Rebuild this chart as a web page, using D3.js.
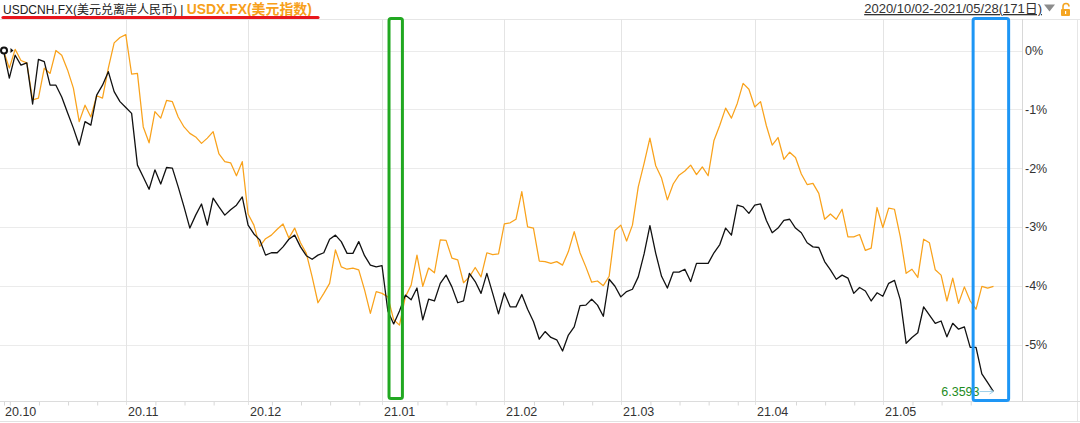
<!DOCTYPE html>
<html><head><meta charset="utf-8">
<script src="https://cdn.jsdelivr.net/npm/d3@7"></script>
<style>
html,body{margin:0;padding:0;background:#fff;}
svg{display:block;font-family:"Liberation Sans","Noto Sans CJK SC",sans-serif;}
</style></head>
<body><svg id="chart" width="1080" height="423"></svg>
<script>
// ---- data ----
const monthLabels = ["20.10","20.11","20.12","21.01","21.02","21.03","21.04","21.05"];
const monthStartIdx = [0,21,42,65,86,106,129,151];
const weekTickIdx = [1,6,11,16,26,31,36,46,51,56,61,71,76,81,91,96,101,111,116,121,126,136,141,146,156,161,166];
const yTicks = [0,-1,-2,-3,-4,-5];
const yTickLabels = ["0%","-1%","-2%","-3%","-4%","-5%"];
const usdcnh = [0,-0.47,-0.08,-0.25,-0.21,-0.91,-0.15,-0.19,-0.59,-0.59,
-0.79,-1.06,-1.32,-1.61,-1.21,-1.27,-0.76,-0.59,-0.36,-0.70,
-0.87,-0.97,-1.07,-1.95,-2.15,-2.36,-2.03,-2.27,-1.99,-2.00,
-2.32,-2.66,-3.02,-2.80,-2.61,-2.97,-2.51,-2.66,-2.80,-2.71,
-2.63,-2.49,-2.97,-3.12,-3.22,-3.48,-3.44,-3.44,-3.34,-3.21,
-3.14,-3.34,-3.49,-3.55,-3.48,-3.44,-3.21,-3.14,-3.25,-3.45,
-3.45,-3.25,-3.49,-3.65,-3.68,-3.66,-4.43,-4.65,-4.43,-4.16,
-4.24,-4.04,-4.58,-4.23,-4.26,-3.96,-3.82,-4.02,-4.29,-4.26,
-3.79,-3.93,-4.13,-3.79,-4.13,-4.48,-4.12,-4.36,-4.36,-4.15,
-4.40,-4.61,-4.91,-4.78,-4.88,-4.92,-5.11,-4.84,-4.70,-4.34,
-4.33,-4.23,-4.33,-4.52,-3.89,-4.01,-4.19,-4.10,-4.06,-3.85,
-3.46,-2.98,-3.45,-3.84,-4.04,-3.77,-3.77,-3.72,-3.93,-3.62,
-3.62,-3.62,-3.44,-3.30,-3.02,-3.14,-2.63,-2.66,-2.77,-2.63,
-2.61,-2.89,-3.10,-3.02,-2.89,-2.87,-3.02,-3.10,-3.27,-3.34,
-3.35,-3.59,-3.73,-3.89,-3.82,-3.87,-4.13,-4.03,-4.09,-4.26,
-4.12,-4.18,-3.96,-3.91,-4.24,-4.98,-4.88,-4.80,-4.36,-4.50,
-4.64,-4.60,-4.87,-4.64,-4.74,-4.70,-5.05,-5.05,-5.50,-5.65,
-5.80];
const usdx = [0,-0.30,0.02,-0.17,-0.21,-0.84,-0.81,-0.30,-0.39,0.00,
-0.08,-0.33,-0.64,-1.21,-0.93,-1.13,-0.77,-0.81,-0.30,0.13,
0.22,0.27,-0.40,-0.39,-1.30,-1.57,-1.04,-1.15,-0.85,-0.87,
-1.13,-1.30,-1.41,-1.47,-1.58,-1.49,-1.38,-1.76,-1.89,-1.91,
-2.13,-1.89,-2.78,-2.97,-3.33,-3.20,-3.14,-3.04,-2.95,-3.19,
-3.02,-3.27,-3.45,-3.85,-4.29,-4.13,-3.96,-3.39,-3.68,-3.72,
-3.70,-3.73,-4.07,-4.47,-4.10,-4.13,-4.19,-4.58,-4.67,-4.19,
-3.99,-3.48,-4.01,-3.70,-3.78,-3.22,-3.23,-3.53,-3.56,-3.95,
-3.85,-3.69,-3.85,-3.44,-3.47,-3.46,-2.95,-2.93,-2.87,-2.40,
-3.00,-3.02,-3.58,-3.59,-3.62,-3.59,-3.65,-3.42,-3.08,-3.44,
-3.68,-3.94,-3.92,-4.00,-3.84,-3.06,-2.97,-3.24,-2.97,-2.32,
-1.92,-1.49,-1.96,-2.17,-2.54,-2.27,-2.12,-2.05,-1.95,-2.11,
-1.98,-2.13,-1.53,-1.27,-0.98,-1.15,-0.90,-0.56,-0.66,-0.96,
-0.87,-1.28,-1.61,-1.48,-1.85,-1.73,-1.82,-2.10,-2.28,-2.26,
-2.43,-2.87,-2.78,-2.87,-2.70,-3.17,-3.17,-3.13,-3.40,-3.36,
-2.67,-3.01,-2.68,-2.70,-3.17,-3.79,-3.72,-3.86,-3.21,-3.27,
-3.73,-3.82,-4.26,-3.87,-4.30,-4.02,-4.26,-4.40,-4.01,-4.04,
-4.01];
const lastValueLabel = "6.3593";
const titleMain = "USDCNH.FX(美元兑离岸人民币)";
const titleSep = " | ";
const titleCompare = "USDX.FX(美元指数)";
const rangeLabel = "2020/10/02-2021/05/28(171日)";
const greenBoxIdx = [66.2, 68.5];
const blueBoxIdx = [166.5, 172.6];

// ---- layout ----
const svg = d3.select("#chart");
const plotTop = 19, axisY = 401, axisRight = 1022;
const x = d3.scaleLinear().domain([0, usdcnh.length - 1]).range([3.5, 993.5]);
const y = d3.scaleLinear().domain([0, -5]).range([50.5, 344.5]);

// outer frame lines
svg.append("line").attr("x1",0).attr("x2",1080).attr("y1",plotTop+0.5).attr("y2",plotTop+0.5).attr("stroke","#e6e6e6");
svg.append("line").attr("x1",0).attr("x2",1080).attr("y1",421.5).attr("y2",421.5).attr("stroke","#e2e2e2");
svg.append("line").attr("x1",1077.5).attr("x2",1077.5).attr("y1",plotTop).attr("y2",421).attr("stroke","#e6e6e6");

// horizontal gridlines
svg.append("g").selectAll("line").data(yTicks).join("line")
  .attr("x1",0).attr("x2",axisRight)
  .attr("y1",d=>Math.round(y(d))+0.5).attr("y2",d=>Math.round(y(d))+0.5)
  .attr("stroke","#ebebeb");

// vertical month gridlines
svg.append("g").selectAll("line").data(monthStartIdx.slice(1)).join("line")
  .attr("x1",d=>Math.round(x(d))+0.5).attr("x2",d=>Math.round(x(d))+0.5)
  .attr("y1",plotTop).attr("y2",axisY+4)
  .attr("stroke","#e4e4e4");

// bottom axis
const xAxis = d3.axisBottom(x).tickValues(weekTickIdx.concat([0])).tickSize(4).tickFormat("");
const gx = svg.append("g").attr("transform",`translate(0.5,${axisY+0.5})`).call(xAxis);
gx.select(".domain").remove();
gx.selectAll(".tick line").attr("stroke","#d8d8d8");
svg.append("line").attr("x1",0).attr("x2",1080).attr("y1",axisY+0.5).attr("y2",axisY+0.5).attr("stroke","#dcdcdc");
svg.append("g").selectAll("text").data(monthStartIdx).join("text")
  .attr("x",(d,i)=> i===0 ? x(d)+1.5 : Math.round(x(d))+2)
  .attr("y",415.5)
  .attr("font-size","12.5px").attr("fill","#333")
  .text((d,i)=>monthLabels[i]);

// right axis
svg.append("line").attr("x1",axisRight+0.5).attr("x2",axisRight+0.5).attr("y1",plotTop).attr("y2",axisY).attr("stroke","#d8d8d8");
const yAxis = d3.axisRight(y).tickValues(yTicks).tickSize(0).tickPadding(3).tickFormat((d,i)=>yTickLabels[i]);
const gy = svg.append("g").attr("transform",`translate(${axisRight},0)`).call(yAxis);
gy.select(".domain").remove();
gy.selectAll("text").attr("font-size","12.5px").attr("fill","#333")
  .attr("font-family",'"Liberation Sans","Noto Sans CJK SC",sans-serif');

// series
const line = d3.line().x((d,i)=>x(i)).y(d=>y(d));
svg.append("path").datum(usdx).attr("d",line).attr("fill","none")
  .attr("stroke","#f9a21b").attr("stroke-width",1.25).attr("stroke-linejoin","round");
svg.append("path").datum(usdcnh).attr("d",line).attr("fill","none")
  .attr("stroke","#111").attr("stroke-width",1.3).attr("stroke-linejoin","round");

// start marker
svg.append("circle").attr("cx",x(0)+0.5).attr("cy",y(usdcnh[0])).attr("r",3)
  .attr("fill","#fff").attr("stroke","#111").attr("stroke-width",2);
svg.append("path").attr("d",`M${x(0)+7},${y(0)-2.5} L${x(0)+10},${y(0)} L${x(0)+7},${y(0)+2.5}Z`).attr("fill","#111");

// last value label + arrow
const lastI = usdcnh.length-1;
const ly = y(usdcnh[lastI]);
svg.append("text").attr("x",x(lastI)-14).attr("y",ly+4.3).attr("text-anchor","end")
  .attr("font-size","12.5px").attr("fill","#1e8c1e").text(lastValueLabel);
svg.append("line").attr("x1",x(lastI)-14).attr("x2",x(lastI)-1).attr("y1",ly).attr("y2",ly)
  .attr("stroke","#9fd0ea").attr("stroke-width",1);
svg.append("path").attr("d",`M${x(lastI)-4},${ly-2.5} L${x(lastI)},${ly} L${x(lastI)-4},${ly+2.5}`)
  .attr("fill","none").attr("stroke","#9fd0ea").attr("stroke-width",1);

// annotation boxes
svg.append("rect").attr("x",x(greenBoxIdx[0])).attr("y",18.5)
  .attr("width",x(greenBoxIdx[1])-x(greenBoxIdx[0])).attr("height",380)
  .attr("rx",2).attr("fill","none").attr("stroke","#21a821").attr("stroke-width",3);
svg.append("rect").attr("x",x(blueBoxIdx[0])).attr("y",18.5)
  .attr("width",x(blueBoxIdx[1])-x(blueBoxIdx[0])).attr("height",382)
  .attr("rx",2).attr("fill","none").attr("stroke","#1e96f5").attr("stroke-width",3);

// header
const t = svg.append("text").attr("x",3).attr("y",13.5).attr("font-size","12px");
t.append("tspan").attr("fill","#222").text(titleMain);
t.append("tspan").attr("fill","#222").attr("xml:space","preserve").text(titleSep);
t.append("tspan").attr("fill","#f7a01a").attr("font-weight","bold").attr("font-size","13.9px").text(titleCompare);
svg.append("path").attr("d","M3,17.5 L318,17.5").attr("stroke","#e8161d").attr("stroke-width",3.2).attr("stroke-linecap","round");

const rt = svg.append("text").attr("x",1042).attr("y",13).attr("text-anchor","end")
  .attr("font-size","13px").attr("fill","#333").attr("text-decoration","underline").text(rangeLabel);
svg.append("path").attr("d","M1044,4.5 L1055,4.5 L1049.5,11.5Z").attr("fill","#8c8c8c");
// lock icon
svg.append("path").attr("d","M1063,9 L1063,6.5 A3,3 0 0 1 1069,6.5").attr("fill","none").attr("stroke","#f5a623").attr("stroke-width",1.6);
svg.append("rect").attr("x",1061).attr("y",9).attr("width",9).attr("height",7).attr("rx",1).attr("fill","#f5a623");
svg.append("rect").attr("x",1065).attr("y",11).attr("width",1.2).attr("height",3).attr("fill","#fff");
</script></body></html>
